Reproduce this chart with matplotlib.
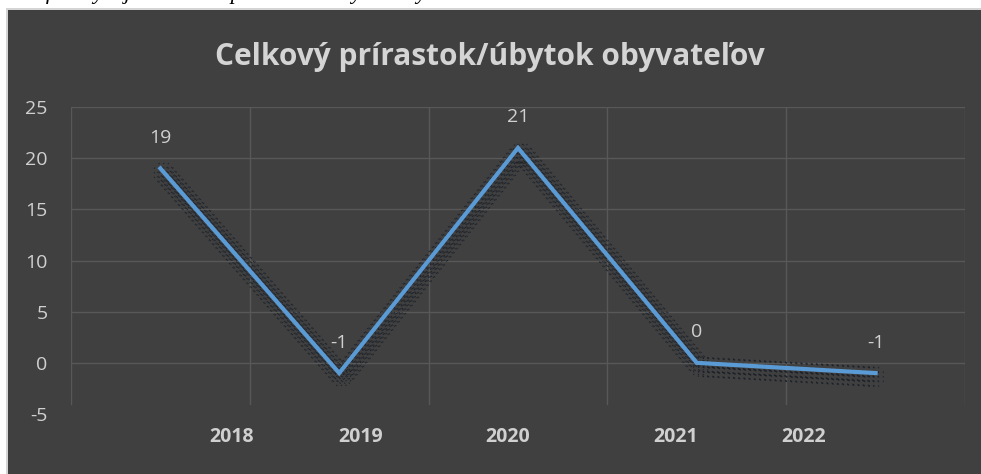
import matplotlib
matplotlib.use("Agg")
import matplotlib.pyplot as plt
import matplotlib.transforms as mtransforms
from matplotlib.patches import Rectangle

# data
years = ["2018", "2019", "2020", "2021", "2022"]
values = [19, -1, 21, 0, -1]
yticks = [-5, 0, 5, 10, 15, 20, 25]
title = "Celkový prírastok/úbytok obyvateľov"
# label positions along the category axis (as drawn in the reference)
label_pos = [0.40, 1.12, 1.94, 2.88, 3.60]

W, H = 981, 474
fig = plt.figure(figsize=(W / 100, H / 100), dpi=100, facecolor="white")
plt.rcParams["font.family"] = ["Open Sans", "DejaVu Sans"]

# dark chart panel with light border
fig.patches.append(Rectangle((6 / W, 0), (W - 6) / W, (H - 8) / H, transform=fig.transFigure,
                             facecolor="#d4d4d4", edgecolor="none", zorder=0))
fig.patches.append(Rectangle((8 / W, 0), (W - 8) / W, (H - 10) / H, transform=fig.transFigure,
                             facecolor="#404040", edgecolor="none", zorder=0))

# cut-off italic document text at very top
fig.text(10 / W, 1.0 + 1 / H, "Graf 1  Vývoj celkového prírastku / úbytku obyvateľov obce v rokoch 2018 – 2022",
         family=["Liberation Serif"], style="italic", fontsize=16, color="black",
         va="baseline", ha="left")

ax = fig.add_axes([71 / W, (H - 414) / H, (965 - 71) / W, (414 - 107) / H])
ax.set_zorder(2)
ax.set_facecolor("none")
x = list(range(len(values)))
ax.set_xlim(-0.5, len(values) - 0.5)
ax.set_ylim(-5, 25)

grid_c = "#585858"
for yv in yticks[1:]:
    ax.axhline(yv, color=grid_c, lw=1.0, zorder=1)
for i in range(len(values) + 1):
    ax.axvline(i - 0.5, ymin=(-4 - (-5)) / 30, ymax=1, color=grid_c, lw=1.0, zorder=1)

# dotted shadow band (offset down-right)
step = 4.6
for i in range(-2, 3):
    for j in range(-2, 3):
        if i * i + j * j > 5:
            continue
        dx = 3 + i * step
        dy = -4 + j * step
        off = mtransforms.offset_copy(ax.transData, fig=fig, x=dx, y=dy, units="dots")
        ax.plot(x, values, color="#161c26", lw=1.1, alpha=0.85, linestyle=(0, (0.6, 2.8)),
                transform=off, zorder=2)

ax.plot(x, values, color="#5b9bd5", lw=3, zorder=3, solid_joinstyle="miter")

for xi, v in zip(x, values):
    ax.annotate(str(v), (xi, v), xytext=(0, 22), textcoords="offset points",
                ha="center", va="center", fontsize=14, color="#d0d0d0", zorder=4)

ax.set_yticks(yticks)
ax.set_yticklabels([str(t) for t in yticks], fontsize=14, color="#d0d0d0")
ax.tick_params(axis="y", length=0, pad=17)
ax.set_xticks(label_pos)
ax.set_xticklabels(years, fontsize=14, fontweight="bold", color="#d0d0d0")
ax.tick_params(axis="x", length=0, pad=9)
for s in ax.spines.values():
    s.set_visible(False)

fig.text(490 / W, 1 - 57 / H, title, ha="center", va="center", fontsize=21.5,
         fontweight="bold", color="#d4d4d4")

fig.savefig("out.png", dpi=100, facecolor="white")
